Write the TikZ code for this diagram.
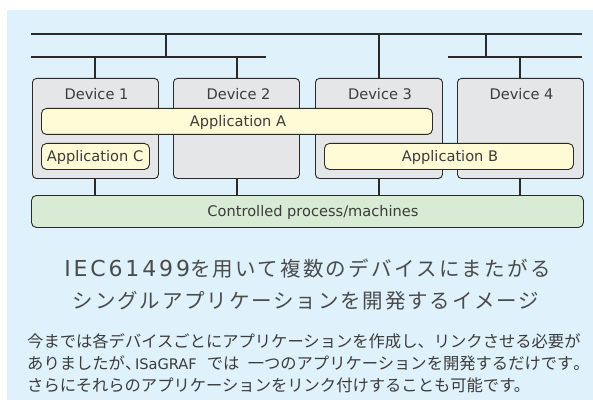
\documentclass[tikz,border=0pt]{standalone}
\usepackage{fontspec}
\setmainfont{DejaVu Sans}
\newfontfamily\jp{Noto Sans CJK JP}
\newfontfamily\jptitle[LetterSpace=9]{Noto Sans CJK JP}
\newfontfamily\jptitleb[LetterSpace=11]{Noto Sans CJK JP}
\newfontfamily\lattitle[LetterSpace=13]{DejaVu Sans}
\definecolor{bgblue}{RGB}{223,241,250}
\definecolor{devfill}{RGB}{229,230,232}
\definecolor{appfill}{RGB}{255,251,214}
\definecolor{procfill}{RGB}{216,235,212}
\definecolor{linec}{RGB}{42,42,42}
\definecolor{txt}{RGB}{60,60,60}
\definecolor{ttl}{RGB}{75,75,75}
\tikzset{
  devbox/.style={draw=linec, line width=0.9pt, fill=devfill, rounded corners=4pt,
    minimum width=126pt, minimum height=100pt, inner sep=0pt, anchor=north west},
  appbox/.style={draw=linec, line width=0.9pt, fill=appfill, rounded corners=5pt,
    minimum height=26pt, inner sep=0pt, anchor=north west},
  procbox/.style={draw=linec, line width=0.9pt, fill=procfill, rounded corners=5pt,
    minimum width=552pt, minimum height=32pt, inner sep=0pt, anchor=north west},
  lbl/.style={text=txt, font=\fontsize{14.6}{16}\selectfont, inner sep=0pt, anchor=base},
  bus/.style={draw=linec, line width=2.3pt},
  wire/.style={draw=linec, line width=2.3pt},
  ttlline/.style={text=ttl, font=\fontsize{20.5}{24}\selectfont, inner sep=0pt, anchor=base},
  bodyline/.style={text=txt, font=\fontsize{16.3}{20}\selectfont\jp, inner sep=0pt, anchor=base west}
}
\begin{document}
\begin{tikzpicture}[x=1pt,y=-1pt]
\useasboundingbox (0,0) rectangle (593,406);
\fill[bgblue] (7,10) rectangle (593,400);

% devices
\node[devbox] (d1) at (32,78) {};
\node[devbox] (d2) at (173,78) {};
\node[devbox, minimum width=127pt] (d3) at (315,78) {};
\node[devbox] (d4) at (457,78) {};

% process
\node[procbox] (proc) at (31,195) {};

% bus coordinates
\coordinate (t1) at (31,34);
\coordinate (t2) at (582,34);
\coordinate (s1) at (31,57);
\coordinate (s2) at (266,57);
\coordinate (s3) at (448,57);
\coordinate (s4) at (582,57);
\coordinate (j1) at (166,34);
\coordinate (j2) at (486,34);
\coordinate (k1) at (95,57);
\coordinate (k2) at (237,57);
\coordinate (k3) at (379,34);
\coordinate (k4) at (520,57);

\draw[bus] (t1) -- (t2);
\draw[bus] (s1) -- (s2);
\draw[bus] (s3) -- (s4);
\draw[wire] (j1) -- (j1 |- s1);
\draw[wire] (j2) -- (j2 |- s3);
\draw[wire] (k1) -- (k1 |- d1.north);
\draw[wire] (k2) -- (k2 |- d2.north);
\draw[wire] (k3) -- (k3 |- d3.north);
\draw[wire] (k4) -- (k4 |- d4.north);

% device to process
\draw[wire] (d1.south -| k1) -- (k1 |- proc.north);
\draw[wire] (d2.south -| k2) -- (k2 |- proc.north);
\draw[wire] (d3.south -| k3) -- (k3 |- proc.north);
\draw[wire] (d4.south -| k4) -- (k4 |- proc.north);

% applications
\node[appbox, minimum width=391pt] (appA) at (41,108) {};
\node[appbox, minimum width=108pt] (appC) at (41,143) {};
\node[appbox, minimum width=249pt] (appB) at (324,143) {};

% labels
\node[lbl] (l1) at (96.5,100) {Device 1};
\node[lbl] (l2) at (238.5,100) {Device 2};
\node[lbl] (l3) at (380,100) {Device 3};
\node[lbl] (l4) at (521.5,100) {Device 4};
\node[lbl] (la) at (238,126.5) {Application A};
\node[lbl] (lc) at (95,161.5) {Application C};
\node[lbl] (lb) at (450,161.5) {Application B};
\node[lbl] (lp) at (313,216.5) {Controlled process/machines};

% title
\node[ttlline] (tt1) at (307.5,276) {{\fontsize{22}{24}\selectfont\lattitle IEC61499}{\jptitleb を用いて複数のデバイスにまたがる}};
\node[ttlline] (tt2) at (306,308.6) {{\jptitle シングルアプリケーションを開発するイメージ}};

% body
\node[bodyline] (b1) at (27,347.5) {今までは各デバイスごとにアプリケーションを作成し、リンクさせる必要が};
\node[bodyline] (b2) at (27,369) {ありましたが\makebox[10pt][l]{、}{\fontsize{14.6}{16}\selectfont\rmfamily ISaGRAF}\hspace{10pt}では\hspace{8.4pt}一つのアプリケーションを開発するだけです\makebox[6pt][l]{。}};
\node[bodyline] (b3) at (27,391) {さらにそれらのアプリケーションをリンク付けすることも可能です。};
\end{tikzpicture}
\end{document}
